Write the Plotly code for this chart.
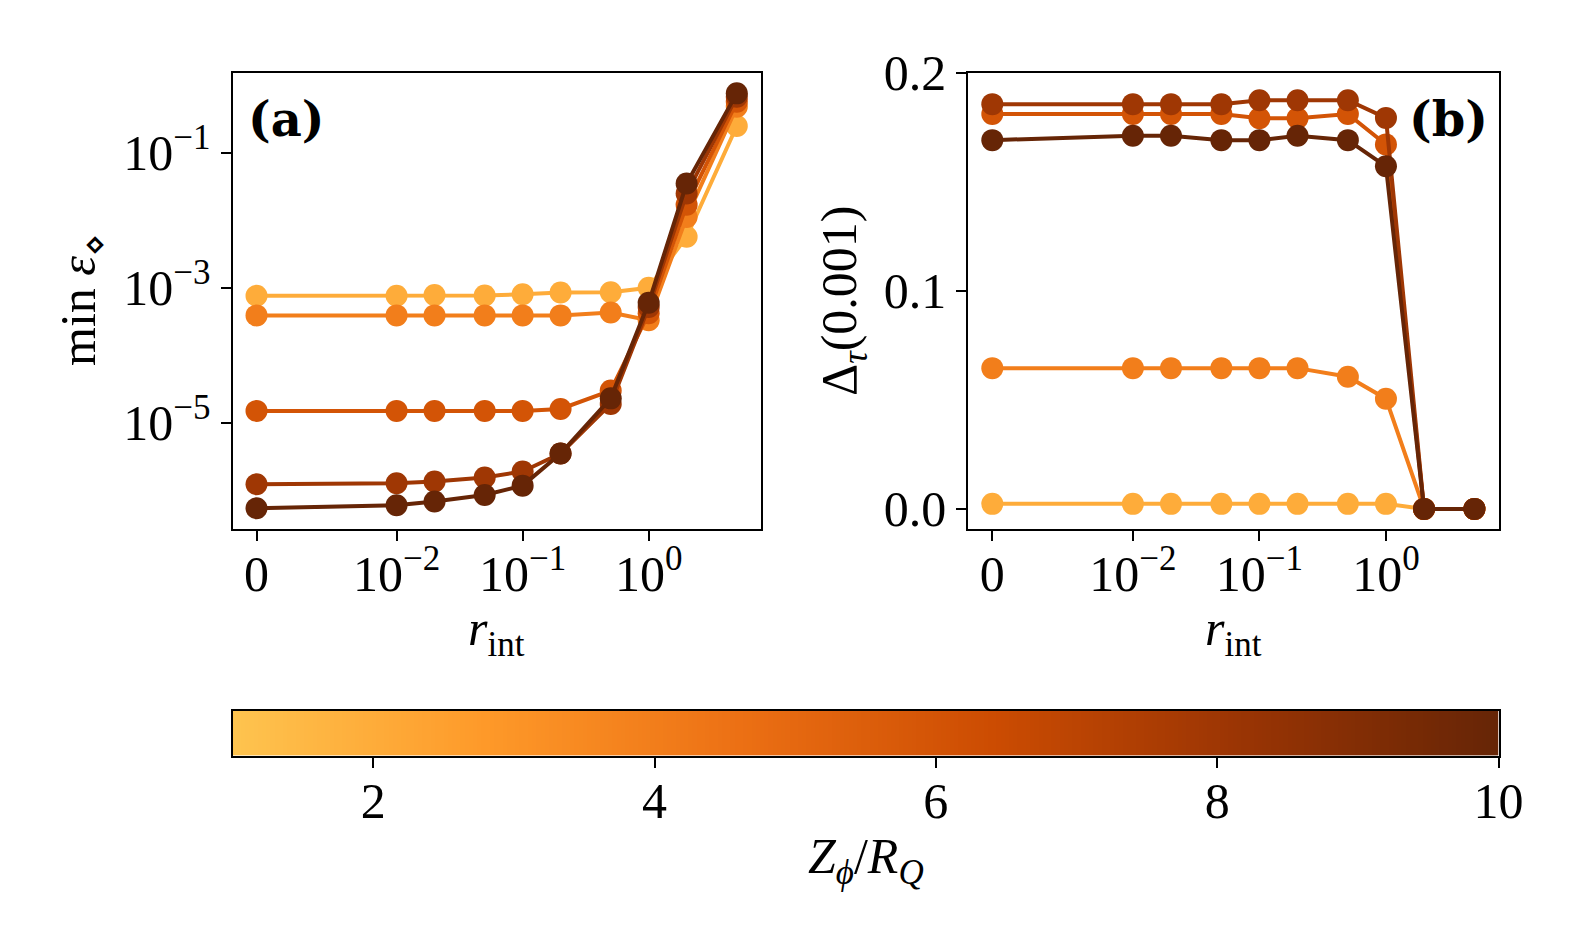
import numpy as np
import plotly.graph_objects as go
from plotly.colors import sample_colorscale

# ---------------- data ----------------
r_int = [0, 0.01, 0.02, 0.05, 0.1, 0.2, 0.5, 1, 2, 5]
Z_vals = [2, 4, 6, 8, 10]

min_eps = {
    2:  [7.6e-4, 7.6e-4, 7.8e-4, 7.7e-4, 8.0e-4, 8.5e-4, 8.6e-4, 1.0e-3, 5.7e-3, 0.25],
    4:  [3.9e-4, 3.9e-4, 3.9e-4, 3.9e-4, 3.9e-4, 3.9e-4, 4.3e-4, 3.3e-4, 1.12e-2, 0.48],
    6:  [1.5e-5, 1.5e-5, 1.5e-5, 1.5e-5, 1.5e-5, 1.6e-5, 3.0e-5, 4.2e-4, 1.7e-2, 0.57],
    8:  [1.23e-6, 1.27e-6, 1.35e-6, 1.55e-6, 1.9e-6, 3.5e-6, 1.9e-5, 5.2e-4, 2.5e-2, 0.68],
    10: [5.4e-7, 6.0e-7, 6.8e-7, 8.5e-7, 1.17e-6, 3.5e-6, 2.3e-5, 6.0e-4, 3.5e-2, 0.76],
}
delta_tau = {
    2:  [0.0023, 0.0023, 0.0023, 0.0023, 0.0023, 0.0023, 0.0023, 0.0023, 0.0, 0.0],
    4:  [0.0645, 0.0645, 0.0645, 0.0645, 0.0645, 0.0645, 0.0606, 0.0505, 0.0, 0.0],
    6:  [0.181, 0.181, 0.181, 0.181, 0.179, 0.179, 0.181, 0.167, 0.0, 0.0],
    8:  [0.1855, 0.1855, 0.1855, 0.1855, 0.1873, 0.1873, 0.1873, 0.1792, 0.0, 0.0],
    10: [0.169, 0.171, 0.171, 0.169, 0.169, 0.171, 0.169, 0.157, 0.0, 0.0],
}
x_tick_vals = [0, 0.01, 0.1, 1]
x_tick_text = ["0", "10<sup>−2</sup>", "10<sup>−1</sup>", "10<sup>0</sup>"]
ya_tick_vals = [1e-1, 1e-3, 1e-5]
ya_tick_text = ["10<sup>−1</sup>", "10<sup>−3</sup>", "10<sup>−5</sup>"]
yb_tick_vals = [0.0, 0.1, 0.2]
yb_tick_text = ["0.0", "0.1", "0.2"]
cbar_ticks = [2, 4, 6, 8, 10]
Z_min, Z_max = 1, 10

# truncated YlOrBr colour scale
colorscale = [[0.0, "#fec44f"], [0.2, "#fe9929"], [0.4, "#ec7014"],
              [0.6, "#cc4c02"], [0.8, "#993404"], [1.0, "#662506"]]

# symlog transform (linthresh = 0.01, linscale = 1, base 10)
LINTHRESH = 0.01
LINSCALE_ADJ = 1.0 / (1 - 1 / 10.0)


def symlog(v):
    v = np.asarray(v, dtype=float)
    out = np.where(np.abs(v) < LINTHRESH,
                   v * LINSCALE_ADJ / LINTHRESH,
                   np.sign(v) * (LINSCALE_ADJ + np.log10(np.maximum(np.abs(v), 1e-300) / LINTHRESH)))
    return out


xt = symlog(r_int)
tmin, tmax = float(xt.min()), float(xt.max())
xpad = 0.05 * (tmax - tmin)
x_range = [tmin - xpad, tmax + xpad]

# ---------------- figure ----------------
W, H = 1578, 947
FONT = "Liberation Serif"
FS = 50


def px_x(p):
    return p / W


def px_y(p):
    return 1 - p / H


fig = go.Figure()

for z in Z_vals:
    col = sample_colorscale(colorscale, [(z - Z_min) / (Z_max - Z_min)])[0]
    fig.add_trace(go.Scatter(x=xt, y=min_eps[z], mode="lines+markers",
                             line=dict(color=col, width=4),
                             marker=dict(color=col, size=22),
                             xaxis="x", yaxis="y", showlegend=False))
for z in Z_vals:
    col = sample_colorscale(colorscale, [(z - Z_min) / (Z_max - Z_min)])[0]
    fig.add_trace(go.Scatter(x=xt, y=delta_tau[z], mode="lines+markers",
                             line=dict(color=col, width=4),
                             marker=dict(color=col, size=22),
                             xaxis="x2", yaxis="y2", showlegend=False))

# colour bar drawn as a gradient strip on its own axis (cell edges given)
N_CB = 300
cb_edges = np.linspace(Z_min, Z_max, N_CB + 1)
cb_centers = 0.5 * (cb_edges[:-1] + cb_edges[1:])
fig.add_trace(go.Heatmap(z=[cb_centers], x=cb_edges, y=[-0.5, 0.5],
                         colorscale=colorscale, zmin=Z_min, zmax=Z_max,
                         showscale=False, hoverinfo="skip",
                         xaxis="x3", yaxis="y3"))

axis_common = dict(showline=True, linecolor="black", linewidth=2, mirror=True,
                   ticks="outside", ticklen=10, tickwidth=2, tickcolor="black",
                   showgrid=False, zeroline=False, automargin=False,
                   tickfont=dict(family=FONT, size=FS, color="black"))

y_top, y_bot = 72.5, 529.4
fig.update_layout(
    width=W, height=H,
    margin=dict(l=0, r=0, t=0, b=0),
    paper_bgcolor="white", plot_bgcolor="white",
    xaxis=dict(domain=[px_x(232.5), px_x(760.8)], range=x_range,
               tickvals=symlog(x_tick_vals), ticktext=x_tick_text,
               ticklabelstandoff=-10, anchor="y", **axis_common),
    yaxis=dict(domain=[px_y(y_bot), px_y(y_top)], type="log", range=[-6.58, 0.19],
               tickvals=ya_tick_vals, ticktext=ya_tick_text,
               anchor="x", **axis_common),
    xaxis2=dict(domain=[px_x(968.2), px_x(1498.5)], range=x_range,
                tickvals=symlog(x_tick_vals), ticktext=x_tick_text,
                ticklabelstandoff=-10, anchor="y2", **axis_common),
    yaxis2=dict(domain=[px_y(y_bot), px_y(y_top)], range=[-0.0094, 0.2],
                tickvals=yb_tick_vals, ticktext=yb_tick_text,
                anchor="x2", **axis_common),
    xaxis3=dict(domain=[px_x(232.5), px_x(1498.5)], range=[Z_min, Z_max],
                tickvals=cbar_ticks, ticktext=[str(t) for t in cbar_ticks],
                ticklabelstandoff=-10, anchor="y3", **axis_common),
    yaxis3=dict(domain=[px_y(755.8), px_y(710.5)], range=[-0.5, 0.5],
                showline=True, linecolor="black", linewidth=2, mirror=True,
                ticks="", showticklabels=False, showgrid=False, zeroline=False,
                automargin=False, anchor="x3"),
)

ann_font = dict(family=FONT, size=FS, color="black")
annotations = [
    dict(text="min <i>ε</i><sub>⋄</sub>", x=px_x(82), y=px_y(300), textangle=-90),
    dict(text="Δ<sub><i>τ</i></sub>(0.001)", x=px_x(843), y=px_y(300), textangle=-90),
    dict(text="<i>r</i><sub>int</sub>", x=px_x(496), y=px_y(632)),
    dict(text="<i>r</i><sub>int</sub>", x=px_x(1233), y=px_y(632)),
    dict(text="<i>Z</i><sub><i>ϕ</i></sub>/<i>R</i><sub><i>Q</i></sub>",
         x=px_x(865.5), y=px_y(860)),
]
for a in annotations:
    fig.add_annotation(xref="paper", yref="paper", showarrow=False,
                       xanchor="center", yanchor="middle", font=ann_font, **a)

panel_font = dict(family="DejaVu Serif", size=48, color="black")
for txt, xc in [("<b>(a)</b>", 286), ("<b>(b)</b>", 1448)]:
    fig.add_annotation(xref="paper", yref="paper", showarrow=False,
                       xanchor="center", yanchor="middle", font=panel_font,
                       text=txt, x=px_x(xc), y=px_y(119))

fig.write_html("out.html", config={"displayModeBar": False},
               post_script="document.body.style.margin='0';")
